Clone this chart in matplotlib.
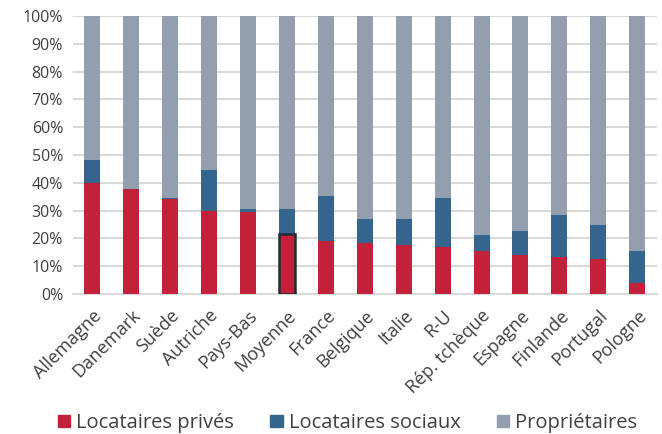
import matplotlib.pyplot as plt
from matplotlib.patches import Patch
from matplotlib.ticker import PercentFormatter

pays = ["Allemagne", "Danemark", "Suède", "Autriche", "Pays-Bas", "Moyenne",
        "France", "Belgique", "Italie", "R-U", "Rép. tchèque", "Espagne",
        "Finlande", "Portugal", "Pologne"]
prives = [39.8, 37.7, 34.1, 29.9, 29.6, 21.6, 19.0, 18.5, 17.7, 16.8, 15.3, 14.1, 13.2, 12.6, 4.1]
sociaux = [8.4, 0.0, 0.6, 14.8, 0.9, 9.0, 16.4, 8.6, 9.4, 17.9, 6.0, 8.7, 15.2, 12.3, 11.5]
proprietaires = [51.8, 62.3, 65.3, 55.3, 69.5, 69.4, 64.6, 72.9, 72.9, 65.3, 78.7, 77.2, 71.6, 75.1, 84.4]

c_prive = "#C3203A"
c_social = "#35658F"
c_proprio = "#939EAE"

plt.rcParams["font.family"] = ["Open Sans", "DejaVu Sans"]

fig = plt.figure(figsize=(6.62, 4.34), dpi=100)
ax = fig.add_axes([0.110, 0.3226, 0.882, 0.6405])

x = range(len(pays))
w = 0.41
b2 = [p + s for p, s in zip(prives, sociaux)]
ax.bar(x, prives, w, color=c_prive, zorder=3)
ax.bar(x, sociaux, w, bottom=prives, color=c_social, zorder=3)
ax.bar(x, proprietaires, w, bottom=b2, color=c_proprio, zorder=3)

# contour de la barre Moyenne
i = pays.index("Moyenne")
ax.bar(i, prives[i], w, facecolor="none", edgecolor="#1F2A3A", linewidth=1.8, zorder=4)

ax.set_ylim(0, 100)
ax.set_xlim(-0.5, len(pays) - 0.5)
ax.set_yticks(range(0, 101, 10))
ax.yaxis.set_major_formatter(PercentFormatter(decimals=0))
ax.grid(axis="y", color="#D9D9D9", linewidth=1.5, zorder=0)
for s in ["top", "right", "left"]:
    ax.spines[s].set_visible(False)
ax.spines["bottom"].set_color("#D9D9D9")
ax.spines["bottom"].set_linewidth(1.5)
ax.tick_params(axis="both", length=0, colors="#404040")
ax.tick_params(axis="y", pad=7, labelsize=11.5)
ax.tick_params(axis="x", pad=9, labelsize=13)
ax.set_xticks(list(x))
ax.set_xticklabels(pays, rotation=45, ha="right", rotation_mode="anchor")

handles = [Patch(color=c_prive, label="Locataires privés"),
           Patch(color=c_social, label="Locataires sociaux"),
           Patch(color=c_proprio, label="Propriétaires")]
fig.legend(handles=handles, loc="center", ncol=3, frameon=False,
           fontsize=14.5, handlelength=0.6, handleheight=0.6, handletextpad=0.3,
           columnspacing=1.8, bbox_to_anchor=(0.525, 0.025), labelcolor="#404040")

fig.savefig("out.png", dpi=100)
